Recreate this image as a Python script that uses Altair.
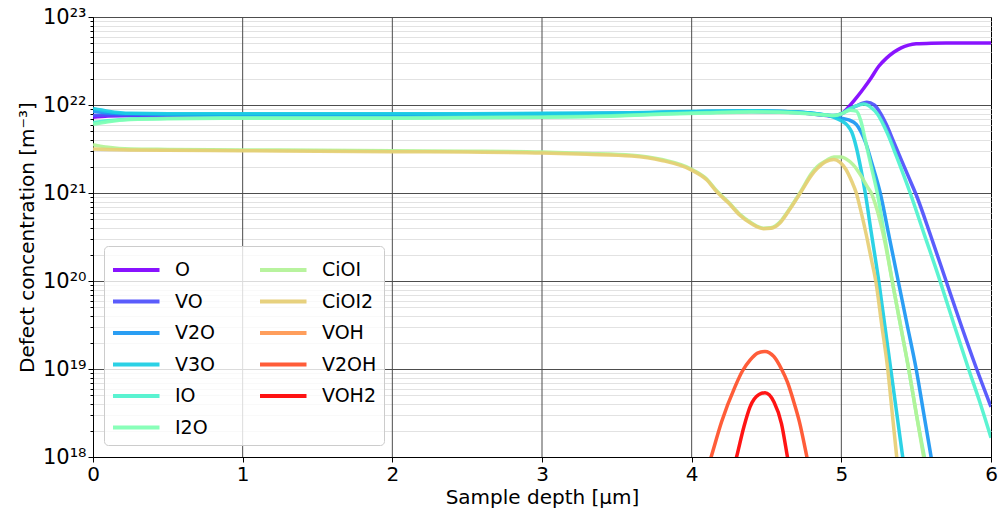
import altair as alt
import pandas as pd

SERIES = ["O", "VO", "V2O", "V3O", "IO", "I2O", "CiOI", "CiOI2", "VOH", "V2OH", "VOH2"]
COLORS = ["#8000ff", "#4d4ffc", "#1996f3", "#1acee3", "#4df3ce", "#80ffb4",
          "#b3f396", "#e6ce74", "#ff964f", "#ff4f28", "#ff0000"]

# depths [um] of the flat part shared by the V/I-O defects
FLAT_X = [0, 0.1, 0.25, 0.5, 1.0, 1.5, 2.0, 2.5, 3.0, 3.5, 3.8, 4.1, 4.4, 4.7, 4.9]

# exponents (log10 of concentration in m^-3)
O_X = FLAT_X + [4.95, 5.0, 5.05, 5.1, 5.15, 5.2, 5.25, 5.3, 5.35, 5.4, 5.45, 5.5, 5.6, 5.7, 6.0]
O_LOG = [21.86, 21.875, 21.88, 21.88, 21.88, 21.88, 21.88, 21.885, 21.89, 21.9, 21.91, 21.92, 21.925, 21.915, 21.88,
         21.875, 21.9, 21.98, 22.08, 22.19, 22.31, 22.44, 22.53, 22.6, 22.65, 22.68, 22.695, 22.703, 22.705, 22.705]

VO_X = FLAT_X + [4.95, 5.0, 5.05, 5.1, 5.17, 5.22, 5.26, 5.3, 5.35, 5.4, 5.45, 5.5, 5.6, 5.7, 5.8, 5.9, 6.0]
VO_LOG = [21.88, 21.885, 21.885, 21.885, 21.885, 21.885, 21.885, 21.89, 21.895, 21.905, 21.915, 21.925, 21.93, 21.92, 21.885,
          21.88, 21.9, 21.95, 21.99, 22.03, 22.0, 21.91, 21.78, 21.58, 21.38, 21.18, 20.98, 20.5, 20.0, 19.5, 19.02, 18.57]

V2O_X = FLAT_X + [4.95, 5.0, 5.05, 5.1, 5.13, 5.165, 5.2, 5.26, 5.32, 5.38, 5.44, 5.5, 5.55, 5.6, 5.65]
V2O_LOG = [21.93, 21.91, 21.9, 21.895, 21.895, 21.895, 21.895, 21.895, 21.9, 21.905, 21.915, 21.925, 21.93, 21.92, 21.885,
           21.87, 21.85, 21.83, 21.78, 21.7, 21.56, 21.36, 21.0, 20.5, 20.0, 19.5, 19.0, 18.5, 18.0, 17.5]

V3O_X = FLAT_X + [4.95, 5.0, 5.04, 5.07, 5.1, 5.13, 5.16, 5.2, 5.25, 5.29, 5.33, 5.37, 5.41, 5.45]
V3O_LOG = [21.96, 21.93, 21.905, 21.9, 21.9, 21.9, 21.9, 21.9, 21.905, 21.91, 21.92, 21.93, 21.935, 21.92, 21.885,
           21.86, 21.82, 21.77, 21.69, 21.52, 21.28, 21.0, 20.55, 20.0, 19.5, 19.0, 18.5, 18.0, 17.5]

IO_X = FLAT_X + [4.95, 5.0, 5.05, 5.1, 5.15, 5.2, 5.24, 5.28, 5.31, 5.37, 5.46, 5.55, 5.65, 5.75, 5.85, 5.93, 6.0]
IO_LOG = [21.8, 21.82, 21.84, 21.85, 21.855, 21.855, 21.855, 21.86, 21.865, 21.88, 21.9, 21.915, 21.925, 21.915, 21.885,
          21.88, 21.9, 21.95, 21.99, 22.01, 21.97, 21.9, 21.78, 21.67, 21.41, 21.0, 20.55, 20.05, 19.52, 19.0, 18.6, 18.22]

I2O_X = FLAT_X + [4.95, 5.0, 5.06, 5.1, 5.13, 5.16, 5.2, 5.24, 5.29, 5.34, 5.395, 5.45, 5.5, 5.555, 5.6]
I2O_LOG = [21.78, 21.81, 21.835, 21.845, 21.85, 21.85, 21.85, 21.855, 21.86, 21.875, 21.895, 21.91, 21.92, 21.91, 21.885,
           21.88, 21.9, 21.94, 21.93, 21.82, 21.6, 21.3, 21.0, 20.5, 20.0, 19.5, 19.0, 18.5, 18.0, 17.6]

# depths of the CiOI / CiOI2 profiles (dip near 4.5 um)
CI_X = [0, 0.1, 0.25, 0.5, 1.0, 1.5, 2.0, 2.5, 3.0, 3.3, 3.6, 3.8, 4.0, 4.1, 4.17, 4.25, 4.32, 4.4, 4.48,
        4.53, 4.59, 4.65, 4.73, 4.8, 4.84, 4.9, 4.95]

CIOI_X = CI_X + [5.0, 5.03, 5.08, 5.13, 5.17, 5.2, 5.24, 5.29, 5.34, 5.395, 5.45, 5.5, 5.55, 5.6]
CIOI_LOG = [21.55, 21.52, 21.5, 21.495, 21.49, 21.485, 21.48, 21.475, 21.465, 21.45, 21.43, 21.38, 21.27, 21.16,
            21.02, 20.89, 20.76, 20.66, 20.6, 20.605, 20.67, 20.81, 21.02, 21.22, 21.3, 21.37, 21.41,
            21.41, 21.39, 21.32, 21.2, 21.08, 21.0, 20.8, 20.45, 20.0, 19.5, 19.0, 18.5, 18.0, 17.5]

CIOI2_X = CI_X + [4.99, 5.03, 5.07, 5.1, 5.13, 5.17, 5.2, 5.23, 5.27, 5.31, 5.34, 5.37, 5.4]
CIOI2_LOG = [21.5, 21.495, 21.49, 21.485, 21.48, 21.475, 21.47, 21.465, 21.455, 21.44, 21.42, 21.37, 21.26, 21.15,
             21.01, 20.88, 20.75, 20.65, 20.595, 20.6, 20.66, 20.8, 21.01, 21.2, 21.28, 21.36, 21.38,
             21.35, 21.27, 21.13, 21.0, 20.8, 20.5, 20.25, 20.0, 19.5, 19.0, 18.5, 18.0, 17.5]

VOH_X = [4.2, 4.3, 4.4, 4.5, 4.6, 4.7, 4.8]
VOH_LOG = [16.0, 16.8, 17.4, 17.6, 17.4, 16.8, 16.0]

V2OH_X = [4.0, 4.13, 4.2, 4.29, 4.34, 4.39, 4.44, 4.49, 4.55, 4.6, 4.64, 4.68, 4.72, 4.77, 4.85]
V2OH_LOG = [17.3, 18.0, 18.4, 18.8, 18.98, 19.1, 19.18, 19.2, 19.14, 19.0, 18.85, 18.64, 18.4, 18.0, 17.3]

VOH2_X = [4.2, 4.3, 4.35, 4.39, 4.45, 4.49, 4.55, 4.6, 4.64, 4.7]
VOH2_LOG = [17.4, 18.0, 18.35, 18.57, 18.71, 18.73, 18.625, 18.38, 18.0, 17.4]

PROFILES = {
    "O": (O_X, O_LOG), "VO": (VO_X, VO_LOG), "V2O": (V2O_X, V2O_LOG), "V3O": (V3O_X, V3O_LOG),
    "IO": (IO_X, IO_LOG), "I2O": (I2O_X, I2O_LOG), "CiOI": (CIOI_X, CIOI_LOG),
    "CiOI2": (CIOI2_X, CIOI2_LOG), "VOH": (VOH_X, VOH_LOG), "V2OH": (V2OH_X, V2OH_LOG),
    "VOH2": (VOH2_X, VOH2_LOG),
}

X_TICKS = [0, 1, 2, 3, 4, 5, 6]
DECADES = [18, 19, 20, 21, 22, 23]
SUPERSCRIPT = {18: "¹⁸", 19: "¹⁹", 20: "²⁰", 21: "²¹", 22: "²²", 23: "²³"}

rows = []
for name in SERIES:
    xs, ls = PROFILES[name]
    for i, (x, l) in enumerate(zip(xs, ls)):
        rows.append({"series": name, "depth": x, "conc": 10.0 ** l, "idx": i})
df = pd.DataFrame(rows)

y_ticks = []
for e in DECADES:
    y_ticks.append(10.0 ** e)
    if e < 23:
        for m in range(2, 10):
            y_ticks.append(m * 10.0 ** e)

ex = "round(log(datum.value)/LN10)"
isdec = f"abs(log(datum.value)/LN10 - {ex}) < 0.01"
lab = "''"
for e in reversed(DECADES):
    lab = f"({ex} == {e} ? '10{SUPERSCRIPT[e]}' : {lab})"
label_expr = f"({isdec}) ? {lab} : ''"

FONT = "DejaVu Sans"
x_scale = alt.Scale(domain=[0, 6], nice=False, zero=False)
y_scale = alt.Scale(type="log", domain=[1e18, 1e23], nice=False)

x_axis = alt.Axis(values=X_TICKS, format="d", title="Sample depth [µm]",
                  labelFontSize=20, titleFontSize=20, labelFlush=False,
                  labelFont=FONT, titleFont=FONT, titleFontWeight="normal",
                  tickSize=5, labelPadding=2, titlePadding=3, grid=False,
                  domainColor="black", tickColor="black",
                  labelColor="black", titleColor="black")

# vertical major grid lines, drawn above the light minor grid but below the curves
vgrid = alt.Chart(pd.DataFrame({"depth": X_TICKS[1:-1]})).mark_rule(
    color="#4d4d4d", strokeWidth=1
).encode(x=alt.X("depth:Q", scale=x_scale, axis=x_axis))

lines = alt.Chart(df).mark_line(
    strokeWidth=3.5, clip=True, interpolate="monotone", opacity=0.92
).encode(
    x=alt.X("depth:Q", scale=x_scale, axis=x_axis),
    y=alt.Y("conc:Q", scale=y_scale,
            axis=alt.Axis(values=y_ticks, labelExpr=label_expr, labelOverlap=False,
                          title="Defect concentration [m⁻³]",
                          labelFontSize=21, titleFontSize=20, labelPadding=2, titlePadding=5,
                          labelFont=FONT, titleFont=FONT, titleFontWeight="normal",
                          tickSize={"condition": {"test": isdec, "value": 5}, "value": 3},
                          grid=True,
                          gridColor={"condition": {"test": isdec, "value": "#4d4d4d"}, "value": "#e2e2e2"},
                          gridWidth={"condition": {"test": isdec, "value": 1}, "value": 1.2},
                          domainColor="black", tickColor="black",
                          labelColor="black", titleColor="black")),
    color=alt.Color("series:N", scale=alt.Scale(domain=SERIES, range=COLORS),
                    legend=alt.Legend(title=None, orient="none", legendX=11, legendY=229,
                                      columns=2, columnPadding=36, rowPadding=4.5,
                                      symbolType="M-1,0H2.1", symbolSize=900, symbolStrokeWidth=4,
                                      labelOffset=30, labelFontSize=19, labelFont=FONT,
                                      labelColor="black", padding=7, strokeColor="#cccccc",
                                      fillColor="rgba(255,255,255,0.8)", cornerRadius=4,
                                      symbolOpacity=0.92)),
    order=alt.Order("idx:Q"),
)

chart = alt.layer(vgrid, lines).properties(
    width=898, height=440,
    autosize=alt.AutoSizeParams(type="none"),
    padding={"left": 93, "top": 17, "right": 8, "bottom": 54},
    background="white",
).configure_view(
    stroke="black", strokeWidth=1,
)

chart.save("out.html", embed_options={"renderer": "svg", "actions": False})
